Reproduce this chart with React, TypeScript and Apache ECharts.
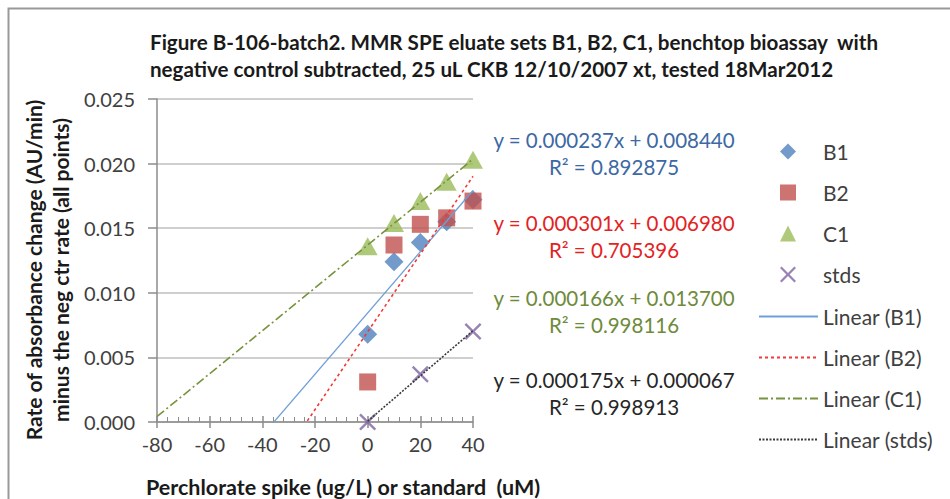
import React, { useEffect, useRef } from "react";
import * as echarts from "echarts";

// ---- data ----
const spikeX = [0, 10, 20, 30, 40];
const b1Values = [0.0068, 0.0124, 0.0139, 0.0155, 0.0172];
const b2Values = [0.0031, 0.0137, 0.0153, 0.0158, 0.0171];
const c1Values = [0.0136, 0.0154, 0.0171, 0.0186, 0.0203];
const stdsX = [0, 20, 40];
const stdsValues = [0.0, 0.0037, 0.007];

const seriesNames = ["B1", "B2", "C1", "stds"];
const trendSlopes = [0.000237, 0.000301, 0.000166, 0.000175];
const trendIntercepts = [0.00844, 0.00698, 0.0137, 0.000067];
const trendR2 = [0.892875, 0.705396, 0.998116, 0.998913];
const trendFrom = [-120, -120, -120, 0];
const trendTo = [40, 40, 40, 40];

const xTicks = [-80, -60, -40, -20, 0, 20, 40];
const yTicks = [0, 0.005, 0.01, 0.015, 0.02, 0.025];

const FONT = "Lato";
const colors = ["#4f81bd", "#c0504d", "#9bbb59", "#8064a2"];
const trendColors = ["#6f9fd8", "#f03a3a", "#77933c", "#3a3a3a"];
const trendDash: any[] = ["solid", [3, 3], [9, 3, 2, 3], [2, 1.5]];
const eqColors = ["#3c68a4", "#e2231f", "#6e8a3b", "#262626"];
const XPATH = "path://M0,1L1,0L5,4L9,0L10,1L6,5L10,9L9,10L5,6L1,10L0,9L4,5Z";

export default function App() {
  const ref = useRef<HTMLDivElement>(null);
  useEffect(() => {
    if (!ref.current) return;
    const chart = echarts.init(ref.current, undefined, { renderer: "svg" });
    const scatterData = [
      spikeX.map((x, i) => [x, b1Values[i]]),
      spikeX.map((x, i) => [x, b2Values[i]]),
      spikeX.map((x, i) => [x, c1Values[i]]),
      stdsX.map((x, i) => [x, stdsValues[i]]),
    ];
    const symbols = ["diamond", "rect", "triangle", XPATH];
    const sizes: any[] = [19, 17, [20, 18], 17];
    const scatterSeries = seriesNames.map((n, i) => ({
      name: n,
      type: "scatter",
      data: scatterData[i],
      symbol: symbols[i],
      symbolSize: sizes[i],
      itemStyle: { color: colors[i] },
      z: 2,
    }));
    const trendSeries = seriesNames.map((n, i) => ({
      name: `Linear (${n})`,
      type: "line",
      data: [trendFrom[i], trendTo[i]].map((x) => [x, trendSlopes[i] * x + trendIntercepts[i]]),
      symbol: "none",
      showSymbol: false,
      clip: true,
      lineStyle: { color: trendColors[i], width: i === 0 ? 1.3 : 1.6, type: trendDash[i] },
      itemStyle: { color: trendColors[i] },
      z: 3,
    }));
    const eqTexts: any[] = [];
    const eqY = [140, 223, 298, 380];
    seriesNames.forEach((_, i) => {
      eqTexts.push({
        type: "text",
        x: 614,
        y: eqY[i],
        style: {
          text: `y = ${trendSlopes[i].toFixed(6)}x + ${trendIntercepts[i].toFixed(6)}`,
          fill: eqColors[i],
          font: `20.5px ${FONT}`,
          textAlign: "center",
          textVerticalAlign: "middle",
        },
      });
      eqTexts.push({
        type: "text",
        x: 614,
        y: eqY[i] + 27,
        style: {
          text: `R² = ${trendR2[i].toFixed(6)}`,
          fill: eqColors[i],
          font: `20.5px ${FONT}`,
          textAlign: "center",
          textVerticalAlign: "middle",
        },
      });
    });
    const legendText = { fontFamily: FONT, fontSize: 21, color: "#404040" };
    const hidden = "rgba(0,0,0,0)";
    const option: any = {
      animation: false,
      backgroundColor: "#ffffff",
      textStyle: { fontFamily: FONT },
      title: {
        text: "Figure B-106-batch2. MMR SPE eluate sets B1, B2, C1, benchtop bioassay  with\nnegative control subtracted, 25 uL CKB 12/10/2007 xt, tested 18Mar2012",
        left: 145,
        top: 23,
        textStyle: { fontFamily: FONT, fontSize: 20.6, fontWeight: "bold", color: "#1a1a1a", lineHeight: 27 },
      },
      grid: { left: 157, top: 99, right: 477, bottom: 77, containLabel: false },
      legend: [
        {
          orient: "vertical",
          left: 780,
          top: 141,
          padding: 0,
          itemWidth: 16,
          itemHeight: 16,
          itemGap: 20,
          textStyle: { ...legendText, padding: [0, 0, 0, 22] },
          data: seriesNames,
        },
        {
          orient: "vertical",
          left: 758,
          top: 306,
          padding: 0,
          itemWidth: 59,
          itemHeight: 16,
          itemGap: 20,
          textStyle: legendText,
          data: seriesNames.map((n) => ({
            name: `Linear (${n})`,
            itemStyle: { color: hidden, borderColor: hidden, borderWidth: 0, opacity: 0 },
          })),
        },
      ],
      xAxis: [
        {
          type: "value",
          min: xTicks[0],
          max: xTicks[xTicks.length - 1],
          interval: 20,
          position: "bottom",
          axisLine: { show: true, onZero: false, lineStyle: { color: "#8c8c8c", width: 1.5 } },
          axisTick: { show: true, inside: true, length: 6, lineStyle: { color: "#8c8c8c", width: 1.5 } },
          minorTick: { show: true, splitNumber: 5, length: 5, lineStyle: { color: "#8c8c8c", width: 1 } },
          splitLine: { show: false },
          axisLabel: { fontFamily: FONT, fontSize: 20, color: "#404040", margin: 12 },
        },
        {
          type: "value",
          min: xTicks[0],
          max: xTicks[xTicks.length - 1],
          interval: 20,
          position: "bottom",
          axisLine: { show: false, onZero: false },
          axisTick: { show: true, inside: false, length: 6, lineStyle: { color: "#8c8c8c", width: 1.5 } },
          axisLabel: { show: false },
          splitLine: { show: false },
        },
      ],
      yAxis: {
        type: "value",
        min: yTicks[0],
        max: yTicks[yTicks.length - 1],
        interval: 0.005,
        axisLine: { show: true, onZero: false, lineStyle: { color: "#8c8c8c", width: 1.5 } },
        axisTick: { show: true, inside: false, length: 9, lineStyle: { color: "#8c8c8c", width: 1.5 } },
        splitLine: { show: true, lineStyle: { color: "#bfbfbf", width: 1.5 } },
        axisLabel: {
          fontFamily: FONT,
          fontSize: 20,
          color: "#404040",
          margin: 22,
          formatter: (v: number) => v.toFixed(3),
        },
      },
      graphic: [
        {
          type: "rect",
          shape: { x: 8.5, y: 8.5, width: 1000, height: 600 },
          style: { fill: "none", stroke: "#999999", lineWidth: 2 },
          z: 100,
        },
        {
          type: "text",
          x: 47,
          y: 270,
          rotation: Math.PI / 2,
          style: {
            text: "Rate of absorbance change (AU/min)\nminus the neg ctr rate (all points)",
            font: `bold 21px ${FONT}`,
            lineHeight: 27,
            fill: "#1a1a1a",
            textAlign: "center",
            textVerticalAlign: "middle",
          },
        },
        {
          type: "text",
          x: 146,
          y: 487,
          style: {
            text: "Perchlorate spike (ug/L) or standard  (uM)",
            font: `bold 21.5px ${FONT}`,
            fill: "#1a1a1a",
            textAlign: "left",
            textVerticalAlign: "middle",
          },
        },
        ...eqTexts,
      ],
      series: [...scatterSeries, ...trendSeries],
    };
    chart.setOption(option);
    return () => chart.dispose();
  }, []);
  return (
    <div
      ref={ref}
      style={{ position: "fixed", left: 0, top: 0, width: 950, height: 499, background: "#fff" }}
    />
  );
}
